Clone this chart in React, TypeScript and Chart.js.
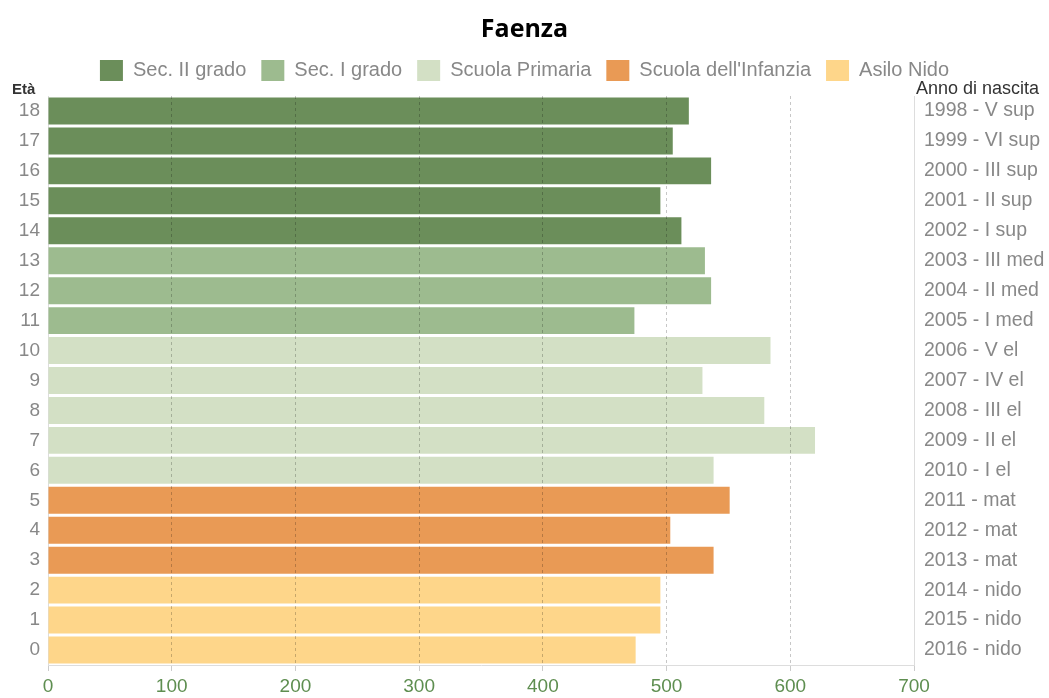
import { useEffect, useRef } from "react";
import { Chart, registerables } from "chart.js";

Chart.register(...registerables);

const chartTitle = "Faenza";
const ages = ["18", "17", "16", "15", "14", "13", "12", "11", "10", "9", "8", "7", "6", "5", "4", "3", "2", "1", "0"];
const birthLabels = [
  "1998 - V sup", "1999 - VI sup", "2000 - III sup", "2001 - II sup", "2002 - I sup",
  "2003 - III med", "2004 - II med", "2005 - I med",
  "2006 - V el", "2007 - IV el", "2008 - III el", "2009 - II el", "2010 - I el",
  "2011 - mat", "2012 - mat", "2013 - mat",
  "2014 - nido", "2015 - nido", "2016 - nido",
];
const population = [518, 505, 536, 495, 512, 531, 536, 474, 584, 529, 579, 620, 538, 551, 503, 538, 495, 495, 475];
const schoolGroup = [0, 0, 0, 0, 0, 1, 1, 1, 2, 2, 2, 2, 2, 3, 3, 3, 4, 4, 4];
const groupNames = ["Sec. II grado", "Sec. I grado", "Scuola Primaria", "Scuola dell'Infanzia", "Asilo Nido"];
const groupColors = ["#6b8e5a", "#9dbb8f", "#d3e0c5", "#e99a55", "#fed68a"];
const xMax = 700;
const xStep = 100;
const leftTitle = "Età";
const rightTitle = "Anno di nascita";

const FONT = "'Liberation Sans', Arial, sans-serif";

const axisTitlesPlugin = {
  id: "axisTitles",
  afterDraw(chart: any) {
    const ctx = chart.ctx;
    ctx.save();
    ctx.textBaseline = "alphabetic";
    ctx.textAlign = "left";
    ctx.fillStyle = "#333";
    ctx.font = `bold 15px ${FONT}`;
    ctx.fillText(leftTitle, 12, 94);
    ctx.font = `18px ${FONT}`;
    ctx.fillText(rightTitle, chart.chartArea.right + 2, 94);
    ctx.restore();
  },
};

export default function App() {
  const ref = useRef<HTMLCanvasElement | null>(null);

  useEffect(() => {
    if (!ref.current) return;
    const datasets = groupNames.map((name, g) => ({
      label: name,
      data: population.map((v, i) => (schoolGroup[i] === g ? v : null)),
      backgroundColor: groupColors[g],
      borderWidth: 0,
      barPercentage: 0.9,
      categoryPercentage: 1,
      yAxisID: "y",
      xAxisID: "x",
    }));
    const chart = new Chart(ref.current, {
      type: "bar",
      data: { labels: ages, datasets },
      plugins: [axisTitlesPlugin],
      options: {
        indexAxis: "y",
        animation: false,
        responsive: false,
        maintainAspectRatio: false,
        layout: { padding: 0 },
        plugins: {
          title: {
            display: true,
            text: chartTitle,
            color: "#000",
            font: { family: "'Open Sans', sans-serif", size: 25, weight: "bold" },
            padding: { top: 15, bottom: 0 },
          },
          legend: {
            display: true,
            labels: {
              boxWidth: 23,
              boxHeight: 21,
              padding: 15,
              color: "#888",
              font: { family: FONT, size: 20 },
            },
          },
          tooltip: { enabled: false },
        },
        scales: {
          x: {
            stacked: true,
            min: 0,
            max: xMax,
            ticks: {
              stepSize: xStep,
              color: "#5e8e50",
              font: { family: FONT, size: 19 },
              padding: 4,
            },
            grid: {
              z: 1,
              color: (c: any) => (c.tick && (c.tick.value === 0 || c.tick.value === xMax) ? "rgba(0,0,0,0)" : "rgba(0,0,0,0.22)"),
              tickColor: "#ccc",
              tickLength: 6,
            },
            border: { display: true, color: "#ddd", dash: [3, 3], z: 1 },
            afterFit: (s: any) => {
              s.height = 33;
            },
          },
          xTopGap: {
            type: "linear",
            axis: "x",
            position: "top",
            display: true,
            ticks: { display: false },
            grid: { display: false, drawTicks: false, color: "rgba(0,0,0,0)" },
            border: { display: false, color: "rgba(0,0,0,0)" },
            afterFit: (s: any) => {
              s.height = 5;
            },
          },
          y: {
            stacked: true,
            position: "left",
            ticks: { color: "#888", font: { family: FONT, size: 19 }, padding: 8 },
            grid: { display: false, drawTicks: false, tickLength: 0 },
            border: { display: true, color: "#ddd" },
            afterFit: (s: any) => {
              s.width = 48;
            },
          },
          y2: {
            type: "category",
            axis: "y",
            labels: birthLabels,
            position: "right",
            offset: true,
            ticks: { color: "#888", font: { family: FONT, size: 19.5 }, padding: 10 },
            grid: { display: false, drawTicks: false, tickLength: 0 },
            border: { display: true, color: "#ddd" },
            afterFit: (s: any) => {
              s.width = 135;
            },
          },
        },
      } as any,
    });
    return () => chart.destroy();
  }, []);

  return (
    <div style={{ position: "fixed", left: 0, top: 0, width: 1049, height: 698, background: "#fff" }}>
      <canvas ref={ref} width={1049} height={698} style={{ width: 1049, height: 698, display: "block" }} />
    </div>
  );
}
